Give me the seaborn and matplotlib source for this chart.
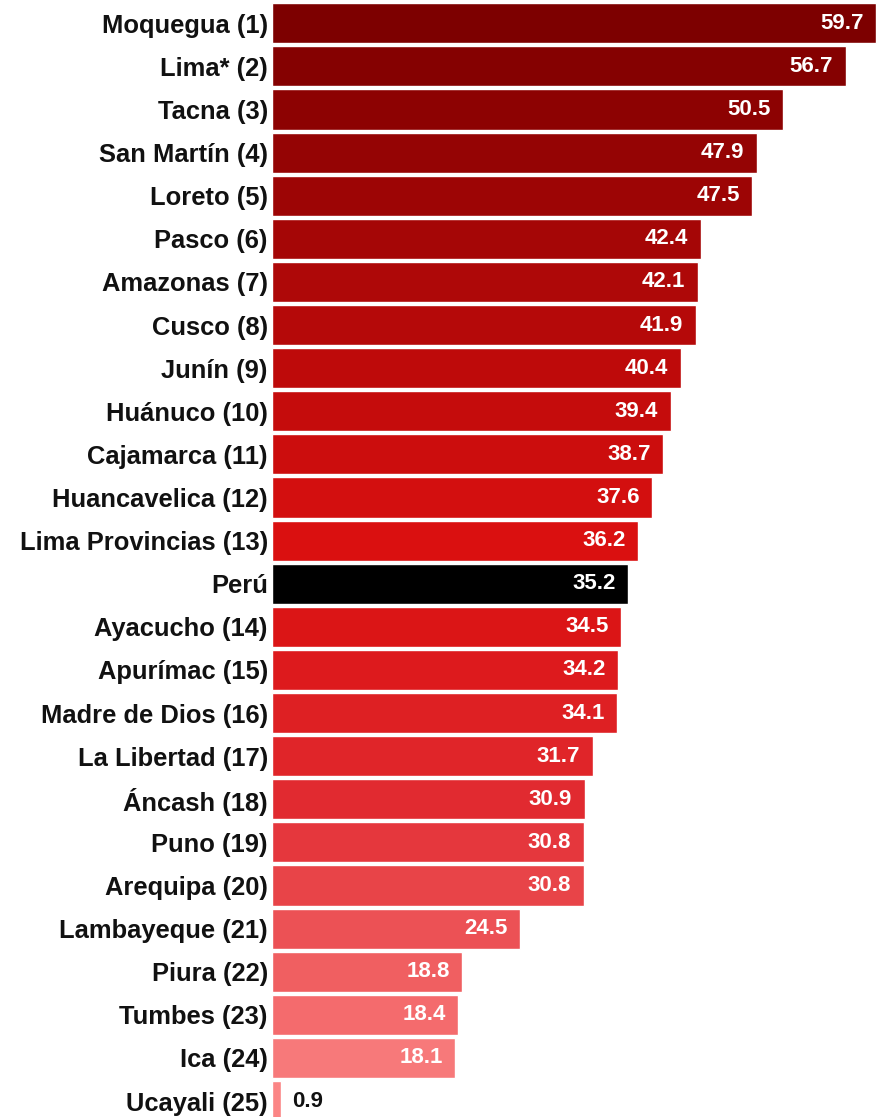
import matplotlib
matplotlib.use("Agg")
import matplotlib.pyplot as plt
import seaborn as sns
from matplotlib.colors import LinearSegmentedColormap, to_hex

# Data (top to bottom)
regions = [
    "Moquegua (1)", "Lima* (2)", "Tacna (3)", "San Martín (4)", "Loreto (5)",
    "Pasco (6)", "Amazonas (7)", "Cusco (8)", "Junín (9)", "Huánuco (10)",
    "Cajamarca (11)", "Huancavelica (12)", "Lima Provincias (13)", "Perú",
    "Ayacucho (14)", "Apurímac (15)", "Madre de Dios (16)", "La Libertad (17)",
    "Áncash (18)", "Puno (19)", "Arequipa (20)", "Lambayeque (21)",
    "Piura (22)", "Tumbes (23)", "Ica (24)", "Ucayali (25)",
]
values = [59.7, 56.7, 50.5, 47.9, 47.5, 42.4, 42.1, 41.9, 40.4, 39.4,
          38.7, 37.6, 36.2, 35.2, 34.5, 34.2, 34.1, 31.7, 30.9, 30.8,
          30.8, 24.5, 18.8, 18.4, 18.1, 0.9]

# Colour ramp from dark red to light salmon, Perú in black
cmap = LinearSegmentedColormap.from_list(
    "reds", [(0.0, "#7d0000"), (0.33, "#bd0a0a"), (0.5, "#da1010"),
             (0.71, "#e12a30"), (1.0, "#fb8585")])
n_reg = len(regions) - 1
colors = []
k = 0
for r in regions:
    if r == "Perú":
        colors.append("#000000")
    else:
        colors.append(to_hex(cmap(k / (n_reg - 1))))
        k += 1

sns.set_style("white")
plt.rcParams["font.family"] = ["Liberation Sans", "DejaVu Sans"]

fig = plt.figure(figsize=(8.88, 11.17), dpi=100)
ax = fig.add_axes([272 / 888, -0.005, 616 / 888, 1.0035])

sns.barplot(x=values, y=regions, hue=regions, palette=colors, legend=False,
            orient="h", width=0.93, saturation=1, ax=ax)

ax.set_xlim(0, 60.9)
ax.set_ylim(len(regions) - 0.5, -0.5)
ax.set_xlabel("")
ax.set_ylabel("")
ax.set_xticks([])
sns.despine(ax=ax, left=True, bottom=True)
ax.tick_params(axis="y", length=0, pad=3)
for lab in ax.get_yticklabels():
    lab.set_fontsize(18.4)
    lab.set_fontweight("bold")
    lab.set_color("#111111")

for i, v in enumerate(values):
    if v < 5:
        ax.annotate(f"{v:.1f}", (v, i), xytext=(8, 0), textcoords="offset points",
                    ha="left", va="center", fontsize=16, fontweight="bold",
                    color="#111111")
    else:
        ax.annotate(f"{v:.1f}", (v, i), xytext=(-9, 0), textcoords="offset points",
                    ha="right", va="center", fontsize=16, fontweight="bold",
                    color="white")

fig.savefig("out.png", dpi=100, facecolor="white")
